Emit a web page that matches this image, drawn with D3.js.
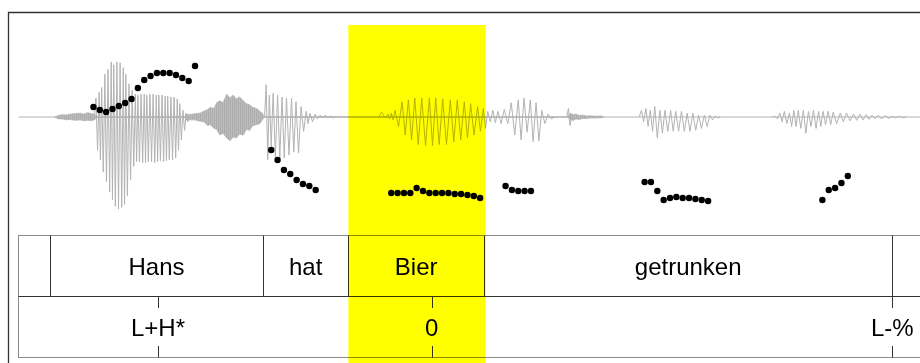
<!DOCTYPE html>
<html>
<head>
<meta charset="utf-8">
<script src="https://cdn.jsdelivr.net/npm/d3@7"></script>
<style>
  html, body { margin: 0; padding: 0; background: #fff; }
  svg { display: block; }
</style>
</head>
<body>
<div id="chart"></div>
<script>
// Sound length in seconds (the plot runs on past the right edge)
const duration = 1.47;

// Word tier: interval boundaries (s) and labels
const wordBounds = [0, 0.0496, 0.385, 0.5194, 0.7331, 1.3761, 1.47];
const wordLabels = ['', 'Hans', 'hat', 'Bier', 'getrunken', ''];

// Tone tier: point times (s) and labels
const toneTimes = [0.2197, 0.6507, 1.3761];
const toneLabels = ['L+H*', '0', 'L-%'];

// Highlighted stretch (s)
const highlight = [0.5194, 0.7357];

// F0 track (s, Hz)
const pitchTimes = [
  0.118, 0.128, 0.138, 0.148, 0.158, 0.168, 0.178, 0.188, 0.198, 0.208, 0.218, 0.228, 0.238, 0.248, 0.258, 0.268, 0.278,
  0.398, 0.408, 0.418, 0.428, 0.438, 0.448, 0.458, 0.468,
  0.587, 0.597, 0.607, 0.617, 0.627, 0.637, 0.647, 0.657, 0.667, 0.677, 0.687, 0.697, 0.707, 0.717, 0.727,
  0.767, 0.777, 0.787, 0.797, 0.807,
  0.986, 0.996, 1.006, 1.016, 1.026, 1.036, 1.046, 1.056, 1.066, 1.076, 1.086,
  1.266, 1.276, 1.286, 1.296, 1.306
];
const pitchHz = [
  188, 185, 183, 186, 189, 192, 196, 207, 215, 219, 222, 222, 222, 220, 217, 214, 229,
  145, 135, 125, 121, 115, 111, 109, 105,
  102, 102, 102, 102, 107, 104, 102, 102, 102, 102, 101, 101, 100, 99, 97,
  109, 105, 104, 104, 104,
  113, 113, 104, 95, 97, 98, 97, 97, 96, 95, 94,
  95, 105, 107, 112, 119
];

// Waveform, voiced parts: one entry per glottal pulse (s, positive peak, negative peak)
const pulseTimes = [
  0.122, 0.127, 0.131, 0.136, 0.141, 0.146, 0.150, 0.155, 0.160, 0.165, 0.169, 0.174, 0.179, 0.184, 0.188, 0.193,
  0.198, 0.202, 0.207, 0.212, 0.217, 0.221, 0.226, 0.231, 0.235, 0.240, 0.245, 0.250, 0.254, 0.259, 0.264,
  0.390, 0.395, 0.401, 0.408, 0.415, 0.422, 0.430, 0.437, 0.445, 0.453, 0.459, 0.467, 0.475, 0.483, 0.491,
  0.572, 0.582, 0.587, 0.593, 0.604, 0.614, 0.624, 0.635, 0.647, 0.657, 0.668, 0.680, 0.691, 0.702, 0.712, 0.723, 0.732,
  0.739, 0.747, 0.755, 0.765, 0.776, 0.787, 0.796, 0.806, 0.815, 0.824, 0.834,
  0.866,
  0.981, 0.988, 0.995, 1.002, 1.010, 1.018, 1.027, 1.035, 1.044, 1.053, 1.062, 1.071, 1.080, 1.089, 1.097,
  1.191, 1.199, 1.206, 1.214, 1.221, 1.228, 1.236, 1.244, 1.252, 1.260, 1.267, 1.275, 1.283, 1.294, 1.304, 1.315,
  1.325, 1.335, 1.344, 1.354, 1.365, 1.376, 1.387
];
const pulseHigh = [
  0.20, 0.26, 0.31, 0.45, 0.50, 0.58, 0.55, 0.58, 0.57, 0.52, 0.45, 0.35, 0.28, 0.24, 0.23, 0.24,
  0.24, 0.23, 0.24, 0.24, 0.23, 0.23, 0.23, 0.22, 0.22, 0.21, 0.21, 0.19, 0.14, 0.07, 0.04,
  0.34, 0.23, 0.25, 0.23, 0.21, 0.20, 0.20, 0.16, 0.11, 0.06, 0.04, 0.03, 0.02, 0.02, 0.01,
  0.05, 0.03, 0.04, 0.07, 0.16, 0.18, 0.20, 0.20, 0.20, 0.20, 0.19, 0.18, 0.18, 0.16, 0.14, 0.11, 0.09,
  0.06, 0.07, 0.06, 0.08, 0.15, 0.18, 0.20, 0.18, 0.15, 0.07, 0.03,
  0.09,
  0.07, 0.09, 0.07, 0.11, 0.07, 0.07, 0.07, 0.06, 0.06, 0.04, 0.04, 0.02, 0.02, 0.02, 0.01,
  0.01, 0.04, 0.06, 0.04, 0.07, 0.07, 0.07, 0.06, 0.07, 0.06, 0.06, 0.06, 0.05, 0.04, 0.04, 0.03,
  0.03, 0.025, 0.02, 0.02, 0.015, 0.01, 0.01
];
const pulseLow = [
  -0.35, -0.45, -0.58, -0.68, -0.79, -0.87, -0.94, -0.97, -0.95, -0.92, -0.83, -0.66, -0.52, -0.47, -0.47, -0.48,
  -0.48, -0.47, -0.47, -0.48, -0.47, -0.46, -0.47, -0.46, -0.45, -0.45, -0.43, -0.35, -0.24, -0.14, -0.05,
  -0.45, -0.31, -0.42, -0.43, -0.43, -0.40, -0.37, -0.38, -0.15, -0.07, -0.05, -0.02, -0.01, -0.01, -0.01,
  -0.01, -0.02, -0.03, -0.10, -0.19, -0.24, -0.29, -0.30, -0.30, -0.29, -0.29, -0.26, -0.24, -0.22, -0.19, -0.15, -0.12,
  -0.05, -0.06, -0.07, -0.07, -0.19, -0.24, -0.16, -0.26, -0.25, -0.07, -0.02,
  -0.09,
  -0.05, -0.10, -0.15, -0.22, -0.17, -0.15, -0.15, -0.15, -0.15, -0.15, -0.14, -0.12, -0.10, -0.03, -0.01,
  -0.02, -0.05, -0.07, -0.10, -0.10, -0.12, -0.17, -0.10, -0.12, -0.10, -0.08, -0.08, -0.07, -0.05, -0.04, -0.035,
  -0.03, -0.025, -0.02, -0.02, -0.015, -0.01, -0.01
];

// Waveform, noisy parts (fricatives, burst): upper and lower envelope
const noiseTimes = [
  0.057, 0.063, 0.069, 0.075, 0.081, 0.089, 0.097, 0.103, 0.109, 0.115, 0.120, 0.125,
  0.262, 0.264, 0.270, 0.278, 0.286, 0.292, 0.298, 0.302, 0.308, 0.312, 0.317, 0.322, 0.328, 0.333, 0.338, 0.343,
  0.348, 0.354, 0.359, 0.364, 0.369, 0.375, 0.380, 0.384, 0.387,
  0.865, 0.869, 0.874, 0.878, 0.883, 0.888, 0.894, 0.900, 0.909, 0.918, 0.922
];
const noiseUp = [
  0, 0.015, 0.025, 0.02, 0.03, 0.035, 0.04, 0.03, 0.045, 0.035, 0.03, 0,
  0, 0.03, 0.025, 0.035, 0.04, 0.06, 0.08, 0.10, 0.09, 0.15, 0.17, 0.15, 0.24, 0.20, 0.23, 0.19,
  0.21, 0.17, 0.14, 0.13, 0.10, 0.09, 0.06, 0.04, 0,
  0, 0.04, 0.025, 0.03, 0.015, 0.02, 0.01, 0.012, 0.008, 0.01, 0
];
const noiseDown = [
  0, -0.02, -0.02, -0.03, -0.025, -0.035, -0.03, -0.04, -0.035, -0.04, -0.025, 0,
  0, -0.03, -0.03, -0.03, -0.045, -0.05, -0.09, -0.08, -0.12, -0.13, -0.19, -0.17, -0.22, -0.25, -0.21, -0.22,
  -0.18, -0.19, -0.13, -0.14, -0.09, -0.08, -0.07, -0.03, 0,
  0, -0.03, -0.035, -0.02, -0.025, -0.015, -0.015, -0.01, -0.01, -0.008, 0
];

const width = 920, height = 363;
const waveColor = '#b3b3b3';
const lineDark = '#333';
const lineGrey = '#8a8a8a';
const font = '"Liberation Sans", Arial, sans-serif';

// Layout of the annotation tiers (px)
const tierTop = 235.5, tierMid = 296.5, tierBottom = 357.5, tickLen = 11.5;

const svg = d3.select('#chart')
  .append('svg')
  .attr('width', width)
  .attr('height', height);

svg.append('rect').attr('width', width).attr('height', height).attr('fill', '#fff');

// streaky fill for the noise band
const pattern = svg.append('defs').append('pattern')
  .attr('id', 'streaks')
  .attr('patternUnits', 'userSpaceOnUse')
  .attr('width', 2).attr('height', 6);
pattern.append('rect').attr('width', 2).attr('height', 6).attr('fill', '#bdbdbd');
pattern.append('rect').attr('width', 1).attr('height', 6).attr('fill', '#acacac');

// Scales
const x = d3.scaleLinear().domain([0, duration]).range([18.5, 18.5 + 635 * duration]);
const yWave = d3.scaleLinear().domain([-1, 1]).range([212, 22]);
const yPitch = d3.scaleLinear().domain([80, 280]).range([215, 15]);

// Outer frame (left and top edges are visible)
svg.append('path')
  .attr('d', `M8.5,${height + 5}V12.5H${width + 5}`)
  .attr('fill', 'none')
  .attr('stroke', lineDark)
  .attr('stroke-width', 1.3);

// Waveform zero line
svg.append('line')
  .attr('x1', x(0)).attr('x2', x(duration))
  .attr('y1', yWave(0)).attr('y2', yWave(0))
  .attr('stroke', waveColor).attr('stroke-width', 1);

// Noise envelope as a filled band
const noiseData = noiseTimes.map((t, i) => ({ t, up: noiseUp[i], down: noiseDown[i] }));
svg.append('path')
  .datum(noiseData)
  .attr('d', d3.area()
    .x(d => x(d.t))
    .y0(d => yWave(d.down))
    .y1(d => yWave(d.up)))
  .attr('fill', 'url(#streaks)')
  .attr('stroke', waveColor)
  .attr('stroke-width', 0.8);

// Voiced stretches: split the pulses where they are far apart
const segments = [];
let current = [];
pulseTimes.forEach((t, i) => {
  if (i > 0 && t - pulseTimes[i - 1] > 0.02) { segments.push(current); current = []; }
  current.push(i);
});
segments.push(current);

const waveLine = d3.line().x(d => x(d[0])).y(d => yWave(d[1]));

segments.forEach(idx => {
  const pts = [];
  idx.forEach((i, k) => {
    const step = k < idx.length - 1
      ? pulseTimes[idx[k + 1]] - pulseTimes[i]
      : (k > 0 ? pulseTimes[i] - pulseTimes[idx[k - 1]] : 0.005);
    if (k === 0) pts.push([pulseTimes[i] - step / 2, 0]);
    pts.push([pulseTimes[i], pulseHigh[i]]);
    pts.push([pulseTimes[i] + step / 2, pulseLow[i]]);
    if (k === idx.length - 1) pts.push([pulseTimes[i] + step, 0]);
  });
  svg.append('path')
    .attr('d', waveLine(pts))
    .attr('fill', 'none')
    .attr('stroke', waveColor)
    .attr('stroke-width', 1);
});

// Pitch points
svg.append('g')
  .selectAll('circle')
  .data(pitchTimes.map((t, i) => ({ t, f: pitchHz[i] })))
  .enter()
  .append('circle')
  .attr('cx', d => x(d.t))
  .attr('cy', d => yPitch(d.f))
  .attr('r', 3.2)
  .attr('fill', '#000');

// Annotation tiers
const tiers = svg.append('g');

tiers.append('rect')
  .attr('x', x(0)).attr('y', tierTop)
  .attr('width', x(duration) - x(0)).attr('height', tierBottom - tierTop)
  .attr('fill', 'none').attr('stroke', lineGrey).attr('stroke-width', 1);

tiers.append('line')
  .attr('x1', x(0)).attr('x2', x(duration))
  .attr('y1', tierMid).attr('y2', tierMid)
  .attr('stroke', lineDark).attr('stroke-width', 1);

// word boundaries
tiers.selectAll('line.bound')
  .data(wordBounds.slice(1, -1))
  .enter()
  .append('line')
  .attr('class', 'bound')
  .attr('x1', d => Math.round(x(d)) + 0.5).attr('x2', d => Math.round(x(d)) + 0.5)
  .attr('y1', tierTop).attr('y2', tierMid)
  .attr('stroke', lineDark).attr('stroke-width', 1);

// word labels, centred in their intervals
tiers.selectAll('text.word')
  .data(wordLabels.map((w, i) => ({ w, a: wordBounds[i], b: wordBounds[i + 1] })))
  .enter()
  .append('text')
  .attr('class', 'word')
  .attr('x', d => (x(d.a) + x(d.b)) / 2)
  .attr('y', (tierTop + tierMid) / 2 + 8.6)
  .attr('text-anchor', 'middle')
  .style('font-family', font)
  .style('font-size', '24px')
  .attr('fill', '#000')
  .text(d => d.w);

// tone points: short ticks at top and bottom plus label
const tones = toneTimes.map((t, i) => ({ t, label: toneLabels[i] }));
tiers.selectAll('path.tick')
  .data(tones)
  .enter()
  .append('path')
  .attr('class', 'tick')
  .attr('d', d => {
    const px = Math.round(x(d.t)) + 0.5;
    return `M${px},${tierMid}V${tierMid + tickLen}M${px},${tierBottom - tickLen}V${tierBottom}`;
  })
  .attr('stroke', lineDark).attr('stroke-width', 1);

tiers.selectAll('text.tone')
  .data(tones)
  .enter()
  .append('text')
  .attr('class', 'tone')
  .attr('x', d => x(d.t))
  .attr('y', (tierMid + tierBottom) / 2 + 8.6)
  .attr('text-anchor', 'middle')
  .style('font-family', font)
  .style('font-size', '24px')
  .attr('fill', '#000')
  .text(d => d.label);

// Yellow highlight, multiplied over everything below it
svg.append('rect')
  .attr('x', x(highlight[0])).attr('y', 25)
  .attr('width', x(highlight[1]) - x(highlight[0]))
  .attr('height', height)
  .attr('fill', '#ffff00')
  .style('mix-blend-mode', 'multiply');
</script>
</body>
</html>
